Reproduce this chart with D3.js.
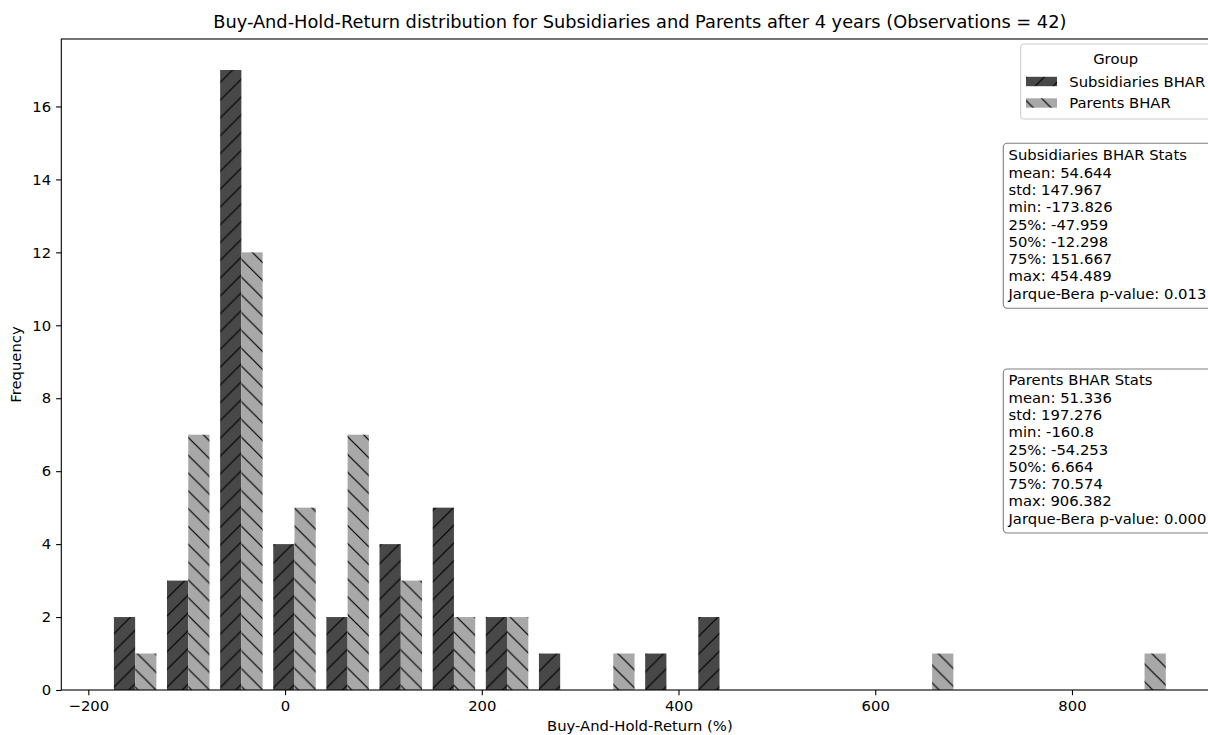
<!DOCTYPE html>
<html>
<head>
<meta charset="utf-8">
<script src="https://cdn.jsdelivr.net/npm/d3@7"></script>
<style>
  html, body { margin: 0; padding: 0; background: #fff; }
  text { font-family: "DejaVu Sans", sans-serif; fill: #000; }
</style>
</head>
<body>
<svg id="chart" width="1208" height="735"></svg>
<script>
// ---- Data ----
const binEdges = [-179.4, -125.4, -71.4, -17.4, 36.6, 90.6, 144.7, 198.7, 252.7, 306.7,
                  360.7, 414.7, 468.7, 522.8, 576.8, 630.8, 684.8, 738.8, 792.8, 846.8, 900.8];
const seriesNames = ["Subsidiaries BHAR", "Parents BHAR"];
const subsidiariesCounts = [2, 3, 17, 4, 2, 4, 5, 2, 1, 0, 1, 2, 0, 0, 0, 0, 0, 0, 0, 0];
const parentsCounts      = [1, 7, 12, 5, 7, 3, 2, 2, 0, 1, 0, 0, 0, 0, 0, 1, 0, 0, 0, 1];
const xTickValues = [-200, 0, 200, 400, 600, 800];
const yTickValues = [0, 2, 4, 6, 8, 10, 12, 14, 16];
const subsidiariesStats = ["Subsidiaries BHAR Stats", "mean: 54.644", "std: 147.967", "min: -173.826",
  "25%: -47.959", "50%: -12.298", "75%: 151.667", "max: 454.489", "Jarque-Bera p-value: 0.013"];
const parentsStats = ["Parents BHAR Stats", "mean: 51.336", "std: 197.276", "min: -160.8",
  "25%: -54.253", "50%: 6.664", "75%: 70.574", "max: 906.382", "Jarque-Bera p-value: 0.000"];
const titleText = "Buy-And-Hold-Return distribution for Subsidiaries and Parents after 4 years (Observations = 42)";
const xLabelText = "Buy-And-Hold-Return (%)";
const yLabelText = "Frequency";

// ---- Layout ----
const svg = d3.select("#chart");
const L = 61.3, R = 1218.4, T = 39, B = 690;
const small = 14.8, big = 17.8;
const colors = ["#484848", "#a8a8a8"];

const nSeries = 2, dr = 0.8;
const bars = [];
[subsidiariesCounts, parentsCounts].forEach((counts, si) => {
  counts.forEach((c, i) => {
    const lo = binEdges[i], hi = binEdges[i + 1], w = hi - lo;
    const bw = dr * w / nSeries;
    const x0 = lo + (1 - dr) / 2 * w + si * bw;
    bars.push({ s: si, x0, x1: x0 + bw, v: c });
  });
});
const dataMin = d3.min(bars, d => d.x0), dataMax = d3.max(bars, d => d.x1);
const pad = 0.05 * (dataMax - dataMin);
const x = d3.scaleLinear().domain([dataMin - pad, dataMax + pad]).range([L, R]);
const yMax = d3.max(bars, d => d.v) * 1.05;
const y = d3.scaleLinear().domain([0, yMax]).range([B, T]);

// hatch patterns
const defs = svg.append("defs");
const s = 17.8, hw = 1.2;
function pattern(id, fill, fwd) {
  const p = defs.append("pattern").attr("id", id).attr("patternUnits", "userSpaceOnUse")
    .attr("width", s).attr("height", s);
  p.append("rect").attr("width", s).attr("height", s).attr("fill", fill);
  const d = fwd
    ? `M0,${s} L${s},0 M${-2},2 L2,${-2} M${s - 2},${s + 2} L${s + 2},${s - 2}`
    : `M0,0 L${s},${s} M${-2},${s - 2} L2,${s + 2} M${s - 2},${-2} L${s + 2},2`;
  p.append("path").attr("d", d).attr("stroke", "#000").attr("stroke-width", hw);
}
pattern("hatch0", colors[0], true);
pattern("hatch1", colors[1], false);

// bars
svg.append("g").selectAll("rect").data(bars.filter(d => d.v > 0)).join("rect")
  .attr("x", d => x(d.x0)).attr("width", d => x(d.x1) - x(d.x0))
  .attr("y", d => y(d.v)).attr("height", d => y(0) - y(d.v))
  .attr("fill", d => `url(#hatch${d.s})`);

// axes
const fmt = d3.format("d");
const xAxis = svg.append("g").attr("transform", `translate(0,${B})`)
  .call(d3.axisBottom(x).tickValues(xTickValues).tickSize(5.2).tickPadding(5).tickFormat(v => fmt(v)));
const yAxis = svg.append("g").attr("transform", `translate(${L},0)`)
  .call(d3.axisLeft(y).tickValues(yTickValues).tickSize(5.2).tickPadding(5));
[xAxis, yAxis].forEach(g => {
  g.select(".domain").remove();
  g.selectAll(".tick line").attr("stroke", "#000").attr("stroke-width", 1.1);
  g.selectAll(".tick text").attr("font-size", small).attr("font-family", "DejaVu Sans").attr("fill", "#000");
});
xAxis.selectAll(".tick text").attr("dy", "0.76em");

// frame
svg.append("rect").attr("x", L).attr("y", T).attr("width", R - L).attr("height", B - T)
  .attr("fill", "none").attr("stroke", "#000").attr("stroke-width", 1.1);

// title & labels
svg.append("text").attr("x", (L + R) / 2).attr("y", 28).attr("text-anchor", "middle")
  .attr("font-size", big).text(titleText);
svg.append("text").attr("x", (L + R) / 2).attr("y", 731).attr("text-anchor", "middle")
  .attr("font-size", small).text(xLabelText);
svg.append("text").attr("transform", `translate(21,${(T + B) / 2}) rotate(-90)`)
  .attr("text-anchor", "middle").attr("font-size", small).text(yLabelText);

// legend
const lg = svg.append("g");
lg.append("rect").attr("x", 1020.7).attr("y", 44).attr("width", 230).attr("height", 75)
  .attr("rx", 3).attr("fill", "#fff").attr("fill-opacity", 0.8).attr("stroke", "#ccc");
lg.append("text").attr("x", 1115.7).attr("y", 64).attr("text-anchor", "middle")
  .attr("font-size", small).text("Group");
seriesNames.forEach((n, i) => {
  const cy = 81.5 + i * 21.5;
  lg.append("rect").attr("x", 1026).attr("y", cy - 4.7).attr("width", 31).attr("height", 9.4)
    .attr("fill", `url(#hatch${i})`);
  lg.append("text").attr("x", 1069.3).attr("y", cy + 5.3).attr("font-size", small).text(n);
});

// stats boxes
function statsBox(lines, top, bottom, firstBase) {
  const g = svg.append("g");
  g.append("rect").attr("x", 1003.3).attr("y", top).attr("width", 240).attr("height", bottom - top)
    .attr("rx", 4).attr("fill", "#fff").attr("fill-opacity", 0.5).attr("stroke", "#7f7f7f").attr("stroke-width", 1.1);
  g.selectAll("text").data(lines).join("text")
    .attr("x", 1008.5).attr("y", (d, i) => firstBase + i * 17.3)
    .attr("font-size", small).text(d => d);
}
statsBox(subsidiariesStats, 143.3, 308.3, 160.3);
statsBox(parentsStats, 369, 533, 385.3);
</script>
</body>
</html>
